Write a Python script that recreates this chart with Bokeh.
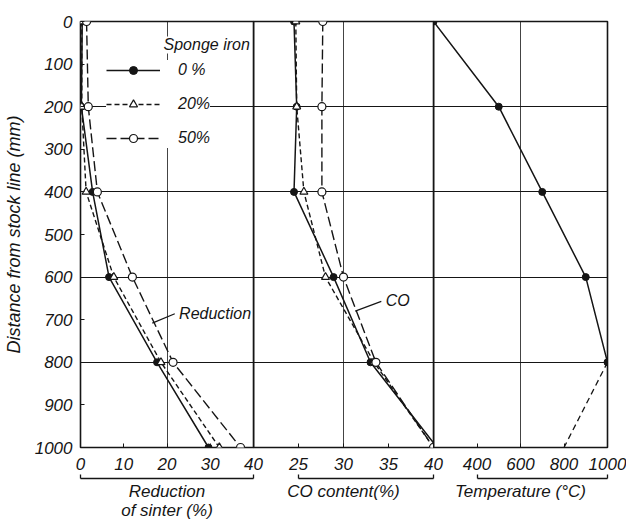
from bokeh.plotting import figure
from bokeh.layouts import row
from bokeh.models import Range1d, FixedTicker, LinearAxis, Legend, LegendItem, Label
from bokeh.embed import file_html
from bokeh.resources import INLINE

# ---------------- data ----------------
distance = [0, 200, 400, 600, 800, 1000]          # mm from stock line

red_0 = [0.4, 0.2, 2.8, 6.6, 17.7, 29.6]           # reduction of sinter (%)
red_20 = [0.3, 0.3, 1.3, 7.7, 18.6, 32.1]
red_50 = [1.4, 1.8, 3.9, 12.0, 21.4, 37.0]

co_0 = [24.5, 24.8, 24.5, 28.9, 33.0, 40.4]        # CO content (%)
co_20 = [24.7, 24.8, 25.6, 28.0, 33.4, 40.0]
co_50 = [27.7, 27.6, 27.6, 30.0, 33.6, 40.0]

temp_dist = [0, 200, 400, 600, 800]
temp_solid = [200, 500, 700, 900, 1000]            # temperature (deg C)
temp_dash_dist = [800, 1000]
temp_dash = [1000, 800]

series_names = ["0 %", "20%", "50%"]

y_ticks = [0, 100, 200, 300, 400, 500, 600, 700, 800, 900, 1000]
grid_rows = [200, 400, 600, 800]
red_ticks = [0, 10, 20, 30, 40]
co_ticks = [25, 30, 35, 40]
temp_ticks = [400, 600, 800, 1000]

red_bracket = (0, 40)
co_bracket = (25, 40)
temp_bracket = (400, 1000)

red_note = {"text": "Reduction", "x": 22.8, "y": 685, "lx": [16.6, 21.8], "ly": [708, 686]}
co_note = {"text": "CO", "x": 34.7, "y": 655, "lx": [31.3, 34.2], "ly": [680, 657]}
legend_title = {"text": "Sponge iron", "x": 19.2, "y": 55}

# ---------------- layout / style ----------------
FONT = "Liberation Sans"
INK = "#151515"
TOP, FRAME_H, BOTTOM = 21, 426, 78
OVER = 18

yr = Range1d(1000, 0)


def make_panel(x_range, frame_w, left, right, margin_left, show_y, grid_x):
    p = figure(width=left + frame_w + right, height=TOP + FRAME_H + BOTTOM,
               x_range=x_range, y_range=yr, output_backend="svg", toolbar_location=None,
               min_border_left=left, min_border_right=right,
               min_border_top=TOP, min_border_bottom=BOTTOM,
               y_axis_location="left" if show_y else None,
               margin=(0, 0, 0, margin_left),
               background_fill_color=None, border_fill_color=None)
    p.outline_line_color = INK
    p.outline_line_width = 1.6
    p.ygrid.ticker = FixedTicker(ticks=grid_rows)
    p.ygrid.grid_line_color = INK
    p.ygrid.grid_line_width = 1
    p.xgrid.ticker = FixedTicker(ticks=grid_x)
    p.xgrid.grid_line_color = INK
    p.xgrid.grid_line_width = 1
    p.xgrid.grid_line_alpha = 0.8
    return p


def style_bottom(p, ticks, bounds, label):
    ax = p.xaxis[0]
    ax.ticker = FixedTicker(ticks=ticks)
    ax.axis_line_color = None
    ax.major_tick_in = 4
    ax.major_tick_out = 0
    ax.major_tick_line_color = INK
    ax.minor_tick_line_color = None
    ax.major_label_text_font = FONT
    ax.major_label_text_font_style = "italic"
    ax.major_label_text_font_size = "17px"
    ax.major_label_text_color = INK
    ax.major_label_standoff = 10
    # invisible spacer between the tick labels and the bracket (only hidden minor ticks)
    gap = LinearAxis(ticker=FixedTicker(ticks=[], minor_ticks=[bounds[0]]),
                     major_tick_in=0, major_tick_out=6, minor_tick_in=0, minor_tick_out=6,
                     major_tick_line_color=None, minor_tick_line_color=None,
                     axis_line_color=None)
    p.add_layout(gap, "below")
    # bracket under the tick labels: an axis limited to the panel's scale,
    # with its end marks given as minor ticks (so it carries no tick labels)
    br = LinearAxis(ticker=FixedTicker(ticks=[], minor_ticks=list(bounds)), bounds=bounds,
                    minor_tick_in=4, minor_tick_out=0, minor_tick_line_color=INK,
                    minor_tick_line_width=1.3,
                    major_tick_line_color=None,
                    axis_line_color=INK, axis_line_width=1.3,
                    axis_label=label, axis_label_text_font=FONT,
                    axis_label_text_font_style="italic", axis_label_text_font_size="17px",
                    axis_label_text_line_height=1.0,
                    axis_label_text_color=INK, axis_label_standoff=3)
    p.add_layout(br, "below")


def draw_series(p, xs, ys, kind):
    if kind == 0:
        ln = p.line(xs, ys, line_color=INK, line_width=1.5)
        sc = p.scatter(xs, ys, marker="circle", size=7, fill_color=INK, line_color=INK)
    elif kind == 1:
        ln = p.line(xs, ys, line_color=INK, line_width=1.4, line_dash="5 3")
        sc = p.scatter(xs, ys, marker="triangle", size=8, fill_color="white", line_color=INK, line_width=1.2)
    else:
        ln = p.line(xs, ys, line_color=INK, line_width=1.4, line_dash="10 4")
        sc = p.scatter(xs, ys, marker="circle", size=8, fill_color="white", line_color=INK, line_width=1.2)
    return ln, sc


def add_note(p, note, size="16px"):
    p.line(note["lx"], note["ly"], line_color=INK, line_width=1.2)
    p.add_layout(Label(x=note["x"], y=note["y"], text=note["text"], text_font=FONT,
                       text_font_style="italic", text_font_size=size, text_color=INK,
                       text_baseline="middle"))


# ---------- panel 1 : reduction ----------
p1 = make_panel(Range1d(0, 40), 176, 77, OVER, 0, True, [20])
style_bottom(p1, red_ticks, red_bracket, "Reduction\nof sinter (%)")
yax = p1.yaxis[0]
yax.ticker = FixedTicker(ticks=y_ticks)
yax.axis_line_color = None
yax.major_tick_in = 4
yax.major_tick_out = 0
yax.major_tick_line_color = INK
yax.minor_tick_line_color = None
yax.major_label_text_font = FONT
yax.major_label_text_font_style = "italic"
yax.major_label_text_font_size = "17px"
yax.major_label_text_color = INK
yax.major_label_standoff = 8
yax.axis_label = "Distance from stock line (mm)"
yax.axis_label_text_font = FONT
yax.axis_label_text_font_style = "italic"
yax.axis_label_text_font_size = "18px"
yax.axis_label_text_color = INK
yax.axis_label_standoff = 8

items = []
for k, (name, red) in enumerate(zip(series_names, [red_0, red_20, red_50])):
    ln, sc = draw_series(p1, red, distance, k)
    items.append(LegendItem(label=name, renderers=[ln, sc]))

legend = Legend(items=items, location=(26, 299), border_line_color=None,
                background_fill_color="white", background_fill_alpha=1.0,
                padding=8, spacing=14, glyph_width=54, glyph_height=20,
                label_standoff=18, margin=0,
                label_text_font=FONT, label_text_font_style="italic",
                label_text_font_size="16px", label_text_color=INK)
p1.add_layout(legend)
p1.add_layout(Label(x=legend_title["x"], y=legend_title["y"], text=legend_title["text"],
                    text_font=FONT, text_font_style="italic", text_font_size="16px",
                    text_color=INK, text_baseline="middle",
                    background_fill_color="white"))
add_note(p1, red_note)

# ---------- panel 2 : CO content ----------
p2 = make_panel(Range1d(20, 40), 180, 0, OVER, -OVER, False, [30])
style_bottom(p2, co_ticks, co_bracket, "CO content(%)")
for k, co in enumerate([co_0, co_20, co_50]):
    draw_series(p2, co, distance, k)
add_note(p2, co_note)

# ---------- panel 3 : temperature ----------
p3 = make_panel(Range1d(200, 1000), 174, 0, 19, -OVER, False, [600])
style_bottom(p3, temp_ticks, temp_bracket, "Temperature (°C)")
p3.line(temp_solid, temp_dist, line_color=INK, line_width=1.5)
p3.scatter(temp_solid, temp_dist, marker="circle", size=7, fill_color=INK, line_color=INK)
p3.line(temp_dash, temp_dash_dist, line_color=INK, line_width=1.3, line_dash="6 4")

layout = row(p1, p2, p3)
open("out.html", "w").write(file_html(layout, INLINE))
